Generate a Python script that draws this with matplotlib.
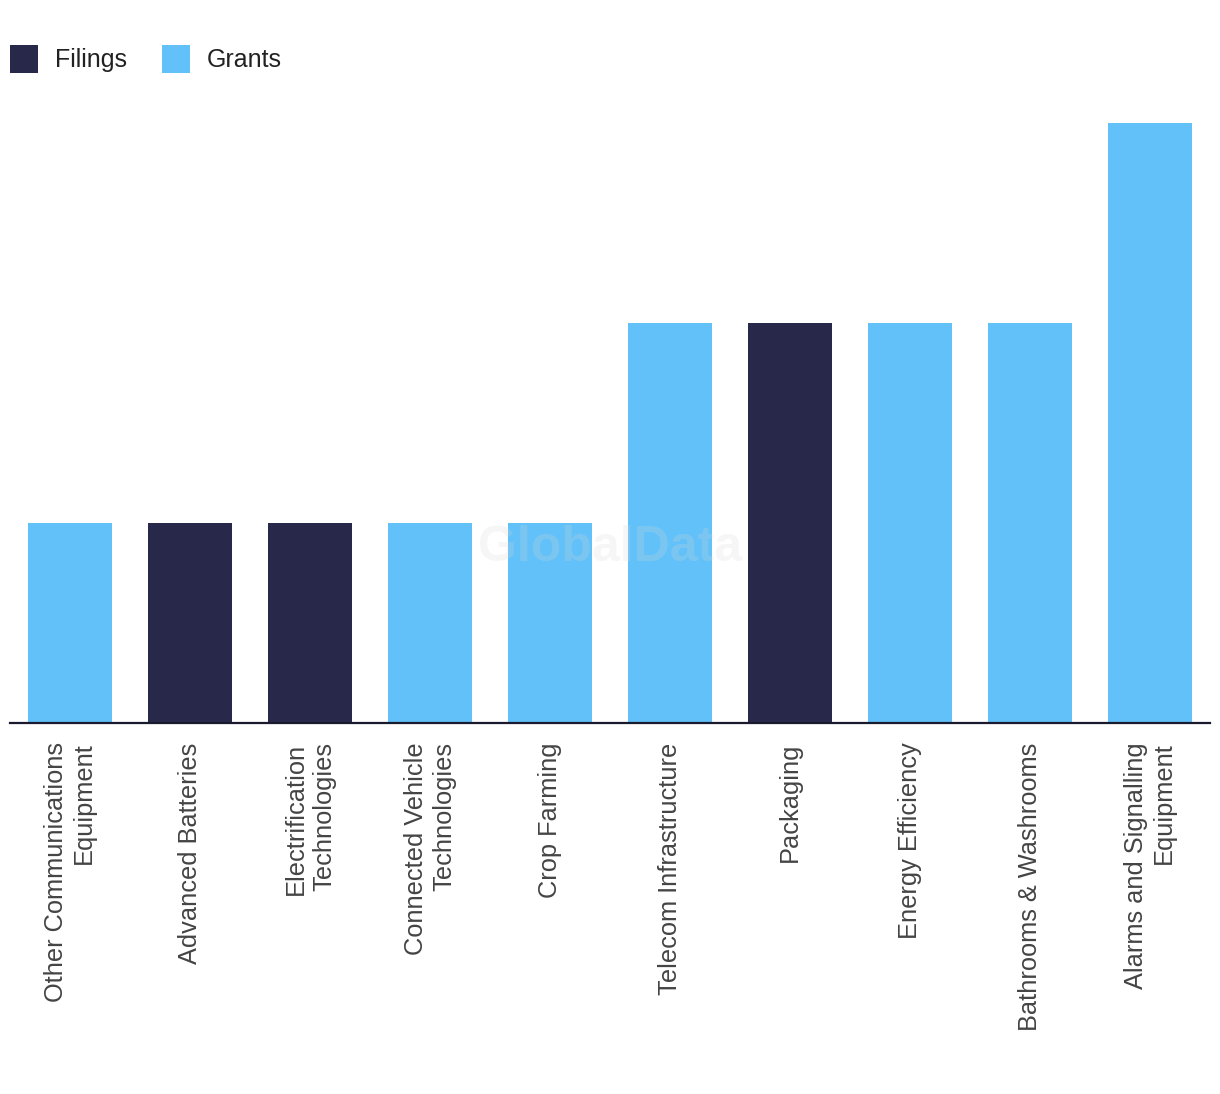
import matplotlib
matplotlib.use("Agg")
import matplotlib.pyplot as plt
from matplotlib.patches import Rectangle

categories = ["Other Communications\nEquipment", "Advanced Batteries", "Electrification\nTechnologies",
              "Connected Vehicle\nTechnologies", "Crop Farming", "Telecom Infrastructure", "Packaging",
              "Energy Efficiency", "Bathrooms & Washrooms", "Alarms and Signalling\nEquipment"]
values = [1, 1, 1, 1, 1, 2, 2, 2, 2, 3]
series = ["Grants", "Filings", "Filings", "Grants", "Grants", "Grants", "Filings", "Grants", "Grants", "Grants"]
legend_labels = ["Filings", "Grants"]
colors = {"Filings": "#28284a", "Grants": "#62c1f9"}

plt.rcParams['font.family'] = ['Liberation Sans', 'DejaVu Sans']

W, H = 1220, 1094
fig = plt.figure(figsize=(W/100, H/100), dpi=100)
ax = fig.add_axes([10/W, (H-723)/H, 1200/W, 600/H])

x = list(range(len(categories)))
ax.bar(x, values, width=0.7, color=[colors[s] for s in series], zorder=2)
ax.set_xlim(-0.5, len(categories)-0.5)
ax.set_ylim(0, 3)
for s in ["top", "right", "left"]:
    ax.spines[s].set_visible(False)
ax.spines["bottom"].set_color("#1a1a2e")
ax.spines["bottom"].set_linewidth(1.6)
ax.spines["bottom"].set_zorder(3)
ax.set_yticks([])
ax.set_xticks(x)
labels = ax.set_xticklabels(categories, rotation=90, fontsize=18.3, color="#444444", ha="center", va="top",
                            multialignment="right")
ax.tick_params(axis="x", length=0, pad=14)

ax.text(0.5, 0.292, "GlobalData", transform=ax.transAxes, ha="center", va="center",
        fontsize=36, fontweight="bold", color="#d8d8d8", alpha=0.22, zorder=4)

# legend drawn in figure pixel coordinates
lx = [10, 162]
for i, lab in enumerate(legend_labels):
    fig.patches.append(Rectangle((lx[i]/W, 1-73/H), 28/W, 28/H, transform=fig.transFigure,
                                 facecolor=colors[lab], edgecolor="none"))
    fig.text((lx[i]+45)/W, 1-60/H, lab, ha="left", va="center", fontsize=18, color="#222222")

fig.savefig("out.png", dpi=100)
